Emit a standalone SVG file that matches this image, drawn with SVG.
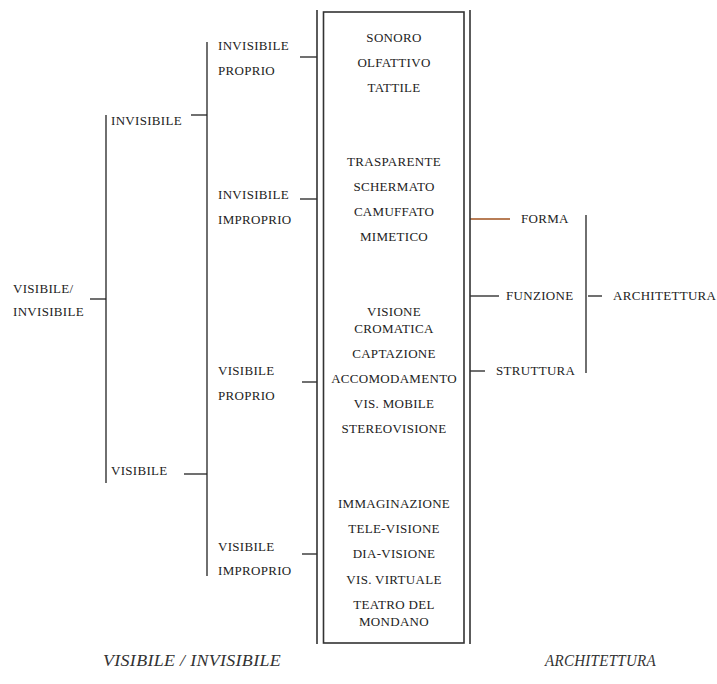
<svg xmlns="http://www.w3.org/2000/svg" width="717" height="684" viewBox="0 0 717 684">
<style>
text{font-family:"Liberation Serif","Times New Roman",serif;font-size:13px;fill:#222;letter-spacing:0.3px}
.c{text-anchor:middle}
.ln{stroke:#222;stroke-width:1.3;fill:none}
.bx{stroke:#333;stroke-width:1.6;fill:none}
.it{font-style:italic;font-size:17px;fill:#333}
</style>
<rect width="717" height="684" fill="#fff"/>
<g id="connectors">
<line class="ln" x1="90" y1="299" x2="106" y2="299"/>
<line class="ln" x1="106" y1="115" x2="106" y2="483"/>
<line class="ln" x1="191" y1="115" x2="207" y2="115"/>
<line class="ln" x1="184" y1="474" x2="207" y2="474"/>
<line class="ln" x1="207" y1="42" x2="207" y2="576"/>
<line class="ln" x1="300" y1="57" x2="317" y2="57"/>
<line class="ln" x1="300" y1="199" x2="317" y2="199"/>
<line class="ln" x1="302" y1="382" x2="317" y2="382"/>
<line class="ln" x1="302" y1="554" x2="317" y2="554"/>
<line x1="470" y1="219" x2="510" y2="219" stroke="#a0521e" stroke-width="1.3"/>
<line class="ln" x1="470" y1="296" x2="499" y2="296"/>
<line class="ln" x1="470" y1="371" x2="485" y2="371"/>
<line class="ln" x1="586" y1="215" x2="586" y2="373"/>
<line class="ln" x1="588" y1="296" x2="602" y2="296"/>
</g>
<g id="frame">
<line class="bx" x1="317" y1="10" x2="317" y2="644"/>
<line class="bx" x1="470" y1="10" x2="470" y2="644"/>
<rect class="bx" x="323.5" y="12" width="140.5" height="631"/>
</g>
<g id="n-visinv"><text x="13" y="293">VISIBILE/</text><text x="13" y="316">INVISIBILE</text></g>
<g id="n-invisibile"><text x="111" y="125">INVISIBILE</text></g>
<g id="n-visibile"><text x="111" y="475">VISIBILE</text></g>
<g id="n-inv-proprio"><text x="218" y="50">INVISIBILE</text><text x="218" y="75">PROPRIO</text></g>
<g id="n-inv-improprio"><text x="218" y="199">INVISIBILE</text><text x="218" y="224">IMPROPRIO</text></g>
<g id="n-vis-proprio"><text x="218" y="375">VISIBILE</text><text x="218" y="400">PROPRIO</text></g>
<g id="n-vis-improprio"><text x="218" y="551">VISIBILE</text><text x="218" y="575">IMPROPRIO</text></g>
<g id="n-box" class="c">
<text class="c" x="394" y="41.5">SONORO</text>
<text class="c" x="394" y="67">OLFATTIVO</text>
<text class="c" x="394" y="91.5">TATTILE</text>
<text class="c" x="394" y="166">TRASPARENTE</text>
<text class="c" x="394" y="190.5">SCHERMATO</text>
<text class="c" x="394" y="215.5">CAMUFFATO</text>
<text class="c" x="394" y="241">MIMETICO</text>
<text class="c" x="394" y="316">VISIONE</text>
<text class="c" x="394" y="333">CROMATICA</text>
<text class="c" x="394" y="358">CAPTAZIONE</text>
<text class="c" x="394" y="383">ACCOMODAMENTO</text>
<text class="c" x="394" y="408">VIS. MOBILE</text>
<text class="c" x="394" y="433">STEREOVISIONE</text>
<text class="c" x="394" y="508">IMMAGINAZIONE</text>
<text class="c" x="394" y="533">TELE-VISIONE</text>
<text class="c" x="394" y="558">DIA-VISIONE</text>
<text class="c" x="394" y="584">VIS. VIRTUALE</text>
<text class="c" x="394" y="609">TEATRO DEL</text>
<text class="c" x="394" y="626">MONDANO</text>
</g>
<g id="n-forma"><text x="521" y="223">FORMA</text></g>
<g id="n-funzione"><text x="506" y="300">FUNZIONE</text></g>
<g id="n-struttura"><text x="496" y="375">STRUTTURA</text></g>
<g id="n-architettura"><text x="613" y="300">ARCHITETTURA</text></g>
<g id="captions">
<text class="it" x="103" y="666" textLength="178" lengthAdjust="spacingAndGlyphs">VISIBILE / INVISIBILE</text>
<text class="it" x="545" y="666" textLength="111" lengthAdjust="spacingAndGlyphs">ARCHITETTURA</text>
</g>
</svg>
